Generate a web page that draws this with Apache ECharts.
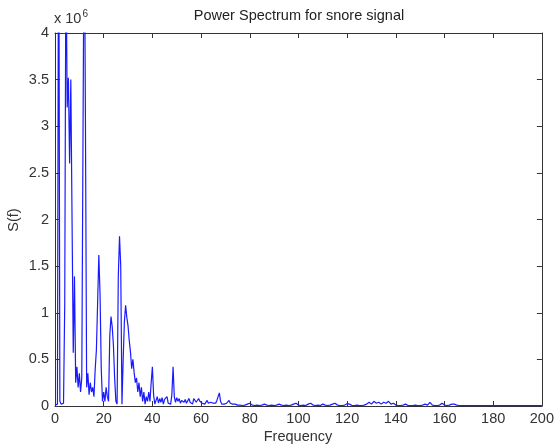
<!DOCTYPE html>
<html>
<head>
<meta charset="utf-8">
<script src="https://cdn.jsdelivr.net/npm/echarts@6/dist/echarts.min.js"></script>
<style>
html,body{margin:0;padding:0;background:#fff;}
#chart{width:557px;height:446px;}
</style>
</head>
<body>
<div id="chart"></div>
<script>
// Frequency grid definition
const lowStart = 0, lowStep = 0.5;   // 0 .. 75 Hz
const highStart = 76, highStep = 1;  // 76 .. 200 Hz

// Power spectrum values (x 10^6), 0..75 Hz step 0.5
const lowVals = [
  0.01, 0.01, 0.02, 6.0, 0.05, 0.02, 0.02, 0.03, 1.1, 5.0,
  3.2, 3.52, 2.6, 3.5, 2.0, 0.57, 1.39, 0.25, 0.42, 0.2,
  0.35, 0.15, 0.3, 2.85, 5.5, 3.07, 0.2, 0.35, 0.12, 0.25,
  0.15, 0.2, 0.1, 0.39, 0.6, 1.1, 1.62, 1.2, 0.4, 0.05,
  0.15, 0.05, 0.2, 0.1, 0.05, 0.75, 0.96, 0.85, 0.65, 0.3,
  0.05, 0.02, 1.39, 1.82, 1.5, 0.02, 0.5, 0.9, 1.08, 0.95,
  0.86, 0.7, 0.58, 0.4, 0.5, 0.36, 0.25, 0.3, 0.15, 0.25,
  0.1, 0.2, 0.05, 0.15, 0.02, 0.1, 0.05, 0.15, 0.05, 0.25,
  0.42, 0.12, 0.02, 0.06, 0.1, 0.03, 0.08, 0.04, 0.09, 0.02,
  0.07, 0.05, 0.1, 0.03, 0.05, 0.02, 0.12, 0.42, 0.1, 0.04,
  0.09, 0.05, 0.08, 0.03, 0.06, 0.08, 0.04, 0.07, 0.03, 0.05,
  0.08, 0.04, 0.06, 0.02, 0.08, 0.09, 0.04, 0.06, 0.08, 0.05,
  0.07, 0.03, 0.05, 0.02, 0.04, 0.06, 0.03, 0.02, 0.04, 0.02,
  0.03, 0.01, 0.03, 0.06, 0.1, 0.14, 0.05, 0.02, 0.01, 0.02,
  0.01, 0.03, 0.05, 0.06, 0.03, 0.01, 0.02, 0.01, 0.02, 0.01,
  0.01
];

// Power spectrum values (x 10^6), 76..200 Hz step 1
const highVals = [
  0.01, 0.005, 0.01, 0.02, 0.03, 0.01, 0.005, 0.01, 0.005, 0.01,
  0.02, 0.01, 0.005, 0.01, 0.005, 0.01, 0.02, 0.01, 0.005, 0.01,
  0.005, 0.01, 0.02, 0.03, 0.01, 0.005, 0.01, 0.005, 0.02, 0.03,
  0.01, 0.005, 0.01, 0.005, 0.02, 0.01, 0.005, 0.01, 0.02, 0.03,
  0.01, 0.005, 0.005, 0.01, 0.025, 0.02, 0.005, 0.005, 0.01, 0.005,
  0.005, 0.01, 0.02, 0.04, 0.02, 0.05, 0.03, 0.04, 0.02, 0.04,
  0.03, 0.05, 0.02, 0.03, 0.01, 0.005, 0.005, 0.01, 0.02, 0.005,
  0.005, 0.005, 0.01, 0.005, 0.005, 0.01, 0.02, 0.01, 0.04, 0.01,
  0.005, 0.005, 0.01, 0.03, 0.01, 0.005, 0.01, 0.02, 0.02, 0.01,
  0.005, 0.005, 0.005, 0.005, 0.005, 0.005, 0.005, 0.005, 0.005, 0.005,
  0.005, 0.005, 0.005, 0.005, 0.005, 0.005, 0.005, 0.005, 0.005, 0.005,
  0.005, 0.005, 0.005, 0.005, 0.005, 0.005, 0.005, 0.005, 0.005, 0.005,
  0.005, 0.005, 0.005, 0.005, 0.005
];

const titleText = 'Power Spectrum for snore signal';
const xLabel = 'Frequency';
const yLabel = 'S(f)';

const seriesData = lowVals.map((v, i) => [lowStart + i * lowStep, v])
  .concat(highVals.map((v, i) => [highStart + i * highStep, v]));

const font = '"Liberation Sans", Arial, sans-serif';
const axisColor = '#333';
const fs = 14.5;

const chart = echarts.init(document.getElementById('chart'), null, {renderer: 'canvas'});
const tickStyle = {show: true, inside: true, length: 5, lineStyle: {color: axisColor, width: 1}};
chart.setOption({
  animation: false,
  backgroundColor: '#fff',
  grid: {left: 55, right: 13, top: 33, bottom: 40, containLabel: false},
  xAxis: [
    {type: 'value', min: 0, max: 200, interval: 20, position: 'bottom',
     axisLine: {show: true, onZero: false, lineStyle: {color: axisColor, width: 1}},
     axisTick: tickStyle,
     axisLabel: {show: true, color: '#333', fontSize: fs, fontFamily: font, margin: 5},
     splitLine: {show: false}},
    {type: 'value', min: 0, max: 200, interval: 20, position: 'top',
     axisLine: {show: true, onZero: false, lineStyle: {color: axisColor, width: 1}},
     axisTick: tickStyle, axisLabel: {show: false}, splitLine: {show: false}}
  ],
  yAxis: [
    {type: 'value', min: 0, max: 4, interval: 0.5, position: 'left',
     axisLine: {show: true, onZero: false, lineStyle: {color: axisColor, width: 1}},
     axisTick: tickStyle,
     axisLabel: {show: true, color: '#333', fontSize: fs, fontFamily: font, margin: 6},
     splitLine: {show: false}},
    {type: 'value', min: 0, max: 4, interval: 0.5, position: 'right',
     axisLine: {show: true, onZero: false, lineStyle: {color: axisColor, width: 1}},
     axisTick: tickStyle, axisLabel: {show: false}, splitLine: {show: false}}
  ],
  series: [{
    type: 'line', xAxisIndex: 0, yAxisIndex: 0,
    data: seriesData, showSymbol: false, symbol: 'none',
    lineStyle: {color: '#1a1aff', width: 1.2}, clip: true
  }],
  graphic: [
    {type: 'text', x: 299, y: 16, style: {text: titleText, font: fs + 'px ' + font, fill: '#222', align: 'center', verticalAlign: 'middle'}},
    {type: 'text', x: 298, y: 437, style: {text: xLabel, font: fs + 'px ' + font, fill: '#333', align: 'center', verticalAlign: 'middle'}},
    {type: 'text', x: 14, y: 220, rotation: Math.PI / 2, style: {text: yLabel, font: fs + 'px ' + font, fill: '#333', align: 'center', verticalAlign: 'middle'}},
    {type: 'text', x: 54, y: 19, style: {
      text: '{a|x 10}{b|6}', verticalAlign: 'middle',
      rich: {a: {fontSize: fs, fontFamily: font, fill: '#333'},
             b: {fontSize: 10, fontFamily: font, fill: '#333', verticalAlign: 'top', padding: [0, 0, 9, 1]}}
    }}
  ]
});
</script>
</body>
</html>
